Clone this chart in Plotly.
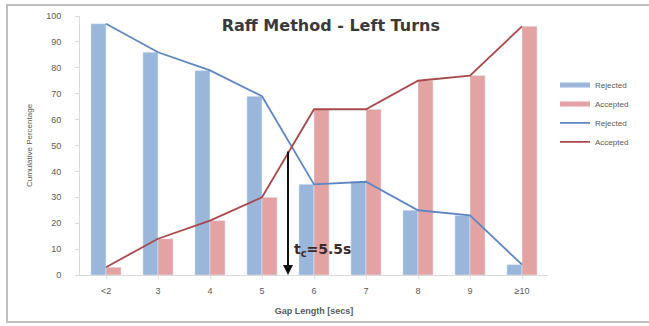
import plotly.graph_objects as go

# Gap length categories and cumulative percentages
categories = ["<2", "3", "4", "5", "6", "7", "8", "9", "≥10"]
rejected = [97, 86, 79, 69, 35, 36, 25, 23, 4]
accepted = [3, 14, 21, 30, 64, 64, 75, 77, 96]
y_ticks = [0, 10, 20, 30, 40, 50, 60, 70, 80, 90, 100]
critical_gap = 5.5
crossing_pct = 50

x_pos = list(range(len(categories)))
# position of the critical gap on the category axis (between "5" and "6")
tc_x = categories.index("5") + (critical_gap - 5)

BAR_BLUE = "#9AB6DB"
BAR_RED = "#E4A3A3"
LINE_BLUE = "#5F86C2"
LINE_RED = "#A8494B"
FONT = "Liberation Sans"
BOLD_FONT = "DejaVu Sans"

fig = go.Figure()
fig.add_trace(go.Bar(x=x_pos, y=rejected, name="Rejected", marker_color=BAR_BLUE,
                     showlegend=False))
fig.add_trace(go.Bar(x=x_pos, y=accepted, name="Accepted", marker_color=BAR_RED,
                     showlegend=False))
fig.add_trace(go.Scatter(x=x_pos, y=rejected, mode="lines", name="Rejected",
                         line=dict(color=LINE_BLUE, width=1.8), showlegend=False))
fig.add_trace(go.Scatter(x=x_pos, y=accepted, mode="lines", name="Accepted",
                         line=dict(color=LINE_RED, width=1.8), showlegend=False))

# legend entries (thick strokes for the bar series, thin for the lines)
for name, color, width in [("Rejected", BAR_BLUE, 5), ("Accepted", BAR_RED, 5),
                           ("Rejected", LINE_BLUE, 1.8), ("Accepted", LINE_RED, 1.8)]:
    fig.add_trace(go.Scatter(x=[None], y=[None], mode="lines", name=name,
                             line=dict(color=color, width=width)))

fig.update_layout(
    width=649, height=326,
    margin=dict(l=80, r=101, t=16, b=51),
    paper_bgcolor="white", plot_bgcolor="white",
    barmode="group", bargap=0.42, bargroupgap=0,
    font=dict(family=FONT, color="#595959", size=8),
    showlegend=True,
    legend=dict(x=1.015, xanchor="left", y=0.79, yanchor="top",
                font=dict(size=8, color="#595959"), tracegroupgap=0,
                itemwidth=30, bgcolor="rgba(0,0,0,0)"),
    xaxis=dict(tickmode="array", tickvals=x_pos, ticktext=categories,
               range=[-0.5, len(categories) - 0.5], showgrid=False,
               showline=True, linecolor="#D9D9D9", linewidth=1,
               ticks="outside", ticklen=3, tickcolor="#E3E3E3",
               ticklabelstandoff=4, tickfont=dict(size=9, color="#595959"),
               title=dict(text="<b>Gap Length [secs]</b>", standoff=12,
                          font=dict(size=9, color="#595959"))),
    yaxis=dict(range=[0, 100], tickvals=y_ticks, showgrid=False,
               showline=True, linecolor="#D9D9D9", linewidth=1,
               ticks="outside", ticklen=4, tickcolor="#D9D9D9",
               ticklabelstandoff=12, tickfont=dict(size=9, color="#595959"),
               title=dict(text="Cumulative Percentage", standoff=12,
                          font=dict(size=8, color="#595959"))),
    title=dict(text="<b>Raff Method - Left Turns</b>", x=0.536, xref="paper",
               xanchor="center", y=0.922, yref="container", yanchor="middle",
               font=dict(size=16, color="#3A3A3A", family=BOLD_FONT)),
)

# critical gap arrow from the crossing point down to the axis
fig.add_annotation(x=tc_x, y=0, ax=tc_x, ay=crossing_pct, xref="x", yref="y",
                   axref="x", ayref="y", showarrow=True, arrowhead=2,
                   arrowsize=1, arrowwidth=2, arrowcolor="#111111", text=" ")
fig.add_annotation(x=tc_x + 0.08, y=9.8, xref="x", yref="y", showarrow=False,
                   xanchor="left", yanchor="middle",
                   text=f"<b>t<sub>c</sub>={critical_gap}s</b>",
                   font=dict(size=14, color="#3A2A2A", family=BOLD_FONT))

# chart frame
fig.add_shape(type="rect", xref="paper", yref="paper",
              x0=-0.156, x1=1.3, y0=-0.181, y1=1.0425,
              line=dict(color="#BFBFBF", width=2), fillcolor="rgba(0,0,0,0)",
              layer="below")

fig.write_html("out.html")
